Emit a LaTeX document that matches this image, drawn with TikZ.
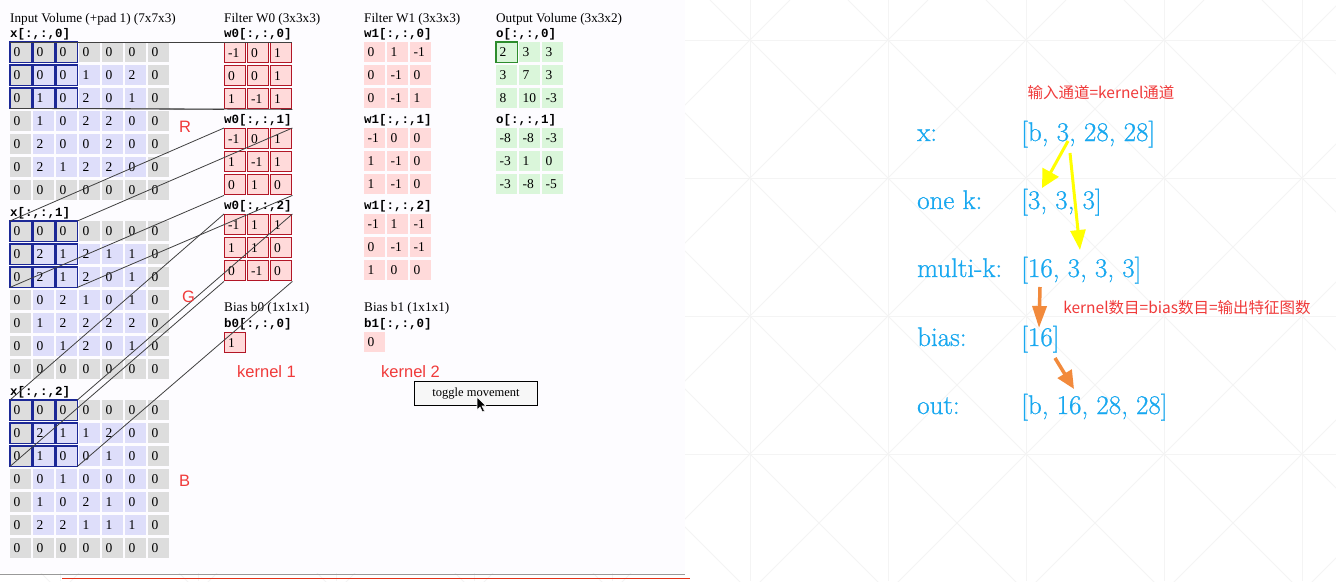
\documentclass[tikz,border=0pt]{standalone}
\usepackage{fontspec}
\usepackage{tikz}
\usetikzlibrary{arrows.meta}
\newfontfamily\pagefont{Liberation Serif}
\newfontfamily\codefont{Liberation Mono}
\newfontfamily\notefont{Liberation Sans}
\newfontfamily\cjkfont{Noto Sans CJK SC}
\newfontfamily\slidefont[FakeBold=0.8]{Latin Modern Roman}
\definecolor{padgray}{RGB}{221,221,221}
\definecolor{inblue}{RGB}{222,222,250}
\definecolor{winblue}{RGB}{28,40,150}
\definecolor{wpink}{RGB}{255,218,218}
\definecolor{wred}{RGB}{178,22,38}
\definecolor{ogreen}{RGB}{218,246,218}
\definecolor{obox}{RGB}{45,140,45}
\definecolor{slideblue}{RGB}{24,168,240}
\definecolor{notered}{RGB}{240,58,58}
\definecolor{arrowyellow}{RGB}{255,255,0}
\definecolor{arroworange}{RGB}{242,138,60}
\definecolor{patline}{RGB}{244,244,244}
\definecolor{panelbg}{RGB}{253,252,255}

\begin{document}
\begin{tikzpicture}[x=1pt,y=-1pt,
    cell/.style={anchor=north west,inner sep=0pt,inner xsep=3.5pt,text width=14pt,
      minimum height=20pt,align=left,font=\pagefont\fontsize{13.5}{13.5}\selectfont},
    wcell/.style={cell,fill=wpink,draw=wred,line width=1.4pt},
    winline/.style={draw=winblue,line width=1.4pt},
    link/.style={draw=black!75,line width=0.8pt},
    head/.style={anchor=base west,inner sep=0pt,font=\pagefont\fontsize{13.2}{14}\selectfont},
    code/.style={anchor=west,inner sep=0pt,font=\codefont\bfseries\fontsize{12.5}{13}\selectfont},
    kname/.style={anchor=base west,inner sep=0pt,text=notered,font=\notefont\fontsize{16.5}{17}\selectfont},
    note/.style={inner sep=0pt,text=notered,font=\cjkfont\fontsize{15.5}{16}\selectfont},
    slide/.style={anchor=base west,inner sep=0pt,text=slideblue,font=\slidefont\fontsize{27}{28}\selectfont},
    button/.style={draw=black,line width=1.5pt,fill=black!3,minimum width=123pt,minimum height=24pt,
      inner sep=0pt,font=\pagefont\fontsize{12.5}{13}\selectfont},
    pat/.style={draw=patline,line width=0.8pt}]
  \useasboundingbox (0,0) rectangle (1336,581);
  \fill[white] (0,0) rectangle (1336,581);
  \begin{scope}
    \clip (0,0) rectangle (1336,581);
    \foreach \gx in {60,198,...,1336} \draw[pat] (\gx,0) -- (\gx,581);
    \foreach \gy in {40,178,...,581} \draw[pat] (0,\gy) -- (1336,\gy);
    \foreach \d in {-670,-532,...,1400} \draw[pat] (\d,0) -- ++(700,700);
    \foreach \d in {-38,100,...,2000} \draw[pat] (\d,0) -- ++(-700,700);
  \end{scope}
  \fill[panelbg] (0,0) rectangle (685,573);
  \draw[black!40,line width=1pt] (0,574) -- (685,574);
  \draw[red!60!brown,line width=1pt] (62,578) -- (690,578);

  \node[head] (intitle) at (10,22) {Input Volume (+pad 1) (7x7x3)};
  \node[head] (w0title) at (224,22) {Filter W0 (3x3x3)};
  \node[head] (w1title) at (364,22) {Filter W1 (3x3x3)};
  \node[head] (otitle) at (496,22) {Output Volume (3x3x2)};
  \node[head] (b0title) at (224,311) {Bias b0 (1x1x1)};
  \node[head] (b1title) at (364,311) {Bias b1 (1x1x1)};

  \foreach \k in {0,1,2} {
    \node[code] (xlab\k) at (10,34.5+179*\k) {x[:,:,\k]};
    \node[code] (w0lab\k) at (224,34.5+86*\k) {w0[:,:,\k]};
    \node[code] (w1lab\k) at (364,34.5+86*\k) {w1[:,:,\k]};
  }
  \node[code] (olab0) at (496,34.5) {o[:,:,0]};
  \node[code] (olab1) at (496,120.5) {o[:,:,1]};
  \node[code] (b0lab) at (224,324) {b0[:,:,0]};
  \node[code] (b1lab) at (364,324) {b1[:,:,0]};

  \foreach \k/\r/\vals in {
      0/0/{0,0,0,0,0,0,0}, 0/1/{0,0,0,1,0,2,0}, 0/2/{0,1,0,2,0,1,0}, 0/3/{0,1,0,2,2,0,0},
      0/4/{0,2,0,0,2,0,0}, 0/5/{0,2,1,2,2,0,0}, 0/6/{0,0,0,0,0,0,0},
      1/0/{0,0,0,0,0,0,0}, 1/1/{0,2,1,2,1,1,0}, 1/2/{0,2,1,2,0,1,0}, 1/3/{0,0,2,1,0,1,0},
      1/4/{0,1,2,2,2,2,0}, 1/5/{0,0,1,2,0,1,0}, 1/6/{0,0,0,0,0,0,0},
      2/0/{0,0,0,0,0,0,0}, 2/1/{0,2,1,1,2,0,0}, 2/2/{0,1,0,0,1,0,0}, 2/3/{0,0,1,0,0,0,0},
      2/4/{0,1,0,2,1,0,0}, 2/5/{0,2,2,1,1,1,0}, 2/6/{0,0,0,0,0,0,0}} {
    \foreach \v [count=\c from 0] in \vals {
      \pgfmathtruncatemacro\pad{(\r==0)||(\r==6)||(\c==0)||(\c==6)}
      \ifnum\pad=1 \def\cfill{padgray}\else\def\cfill{inblue}\fi
      \node[cell,fill=\cfill] (x\k-\r-\c) at (10+23*\c,42+179*\k+23*\r) {\v};
    }
  }
  \foreach \k in {0,1,2}
    \foreach \r in {0,1,2}
      \foreach \c in {0,1,2}
        \draw[winline] (x\k-\r-\c.north west) rectangle (x\k-\r-\c.south east);

  \foreach \k/\r/\vals in {
      0/0/{-1,0,1}, 0/1/{0,0,1}, 0/2/{1,-1,1},
      1/0/{-1,0,1}, 1/1/{1,-1,1}, 1/2/{0,1,0},
      2/0/{-1,1,1}, 2/1/{1,1,0}, 2/2/{0,-1,0}} {
    \foreach \v [count=\c from 0] in \vals
      \node[wcell] (w0-\k-\r-\c) at (224+23*\c,42+86*\k+23*\r) {\v};
  }
  \foreach \k/\r/\vals in {
      0/0/{0,1,-1}, 0/1/{0,-1,0}, 0/2/{0,-1,1},
      1/0/{-1,0,0}, 1/1/{1,-1,0}, 1/2/{1,-1,0},
      2/0/{-1,1,-1}, 2/1/{0,-1,-1}, 2/2/{1,0,0}} {
    \foreach \v [count=\c from 0] in \vals
      \node[cell,fill=wpink] (w1-\k-\r-\c) at (364+23*\c,42+86*\k+23*\r) {\v};
  }
  \foreach \k/\r/\vals in {
      0/0/{2,3,3}, 0/1/{3,7,3}, 0/2/{8,10,-3},
      1/0/{-8,-8,-3}, 1/1/{-3,1,0}, 1/2/{-3,-8,-5}} {
    \foreach \v [count=\c from 0] in \vals
      \node[cell,fill=ogreen] (o-\k-\r-\c) at (496+23*\c,42+86*\k+23*\r) {\v};
  }
  \draw[draw=obox,line width=1.4pt] (o-0-0-0.north west) rectangle (o-0-0-0.south east);
  \node[wcell] (b0) at (224,332) {1};
  \node[cell,fill=wpink] (b1) at (364,332) {0};

  \foreach \k in {0,1,2} {
    \draw[link] (x\k-0-0.north west) -- (w0-\k-0-0.north west);
    \draw[link] (x\k-0-2.north east) -- (w0-\k-0-2.north east);
    \draw[link] (x\k-2-0.south west) -- (w0-\k-2-0.south west);
    \draw[link] (x\k-2-2.south east) -- (w0-\k-2-2.south east);
  }

  \node[kname] (chR) at (179,132) {R};
  \node[kname] (chG) at (182,302) {G};
  \node[kname] (chB) at (179,486) {B};
  \node[kname] (k1) at (237,377) {kernel 1};
  \node[kname] (k2) at (381,377) {kernel 2};

  \node[button] (toggle) at (476,393.5) {toggle movement};
  \draw[fill=black,draw=white,line width=0.6pt] (477,397) -- ++(0,13) -- ++(3,-3)
    -- ++(2.5,5) -- ++(2,-1) -- ++(-2.5,-5) -- ++(4,0) -- cycle;

  \node[slide] (xname) at (917,141) {x:};
  \node[slide] (xdim) at (1021,141) {[b, 3, 28, 28]};
  \node[slide] (kname) at (917,209) {one k:};
  \node[slide] (kdim) at (1021,209) {[3, 3, 3]};
  \node[slide] (mname) at (917,277) {multi-k:};
  \node[slide] (mdim) at (1021,277) {[16, 3, 3, 3]};
  \node[slide] (bname) at (917,346) {bias:};
  \node[slide] (bdim) at (1021,346) {[16]};
  \node[slide] (oname) at (917,414) {out:};
  \node[slide] (odim) at (1021,414) {[b, 16, 28, 28]};

  \node[note] (chan) at (1101,93) {输入通道=kernel通道};
  \node[note] (count) at (1187,308) {kernel数目=bias数目=输出特征图数};

  \coordinate (ya) at (1068,141);
  \coordinate (yb) at (1042,188);
  \coordinate (yc) at (1070,153);
  \coordinate (yd) at (1080,250);
  \coordinate (oa) at (1040,287);
  \coordinate (ob) at (1039,328);
  \coordinate (oc) at (1055,358);
  \coordinate (od) at (1074,389);
  \draw[arrowyellow,line width=3pt,-{Triangle[length=18pt,width=18pt]}] (ya) -- (yb);
  \draw[arrowyellow,line width=3pt,-{Triangle[length=20pt,width=15pt]}] (yc) -- (yd);
  \draw[arroworange,line width=3.5pt,-{Triangle[length=22pt,width=14pt]}] (oa) -- (ob);
  \draw[arroworange,line width=3.5pt,-{Triangle[length=18pt,width=16pt]}] (oc) -- (od);
\end{tikzpicture}
\end{document}
